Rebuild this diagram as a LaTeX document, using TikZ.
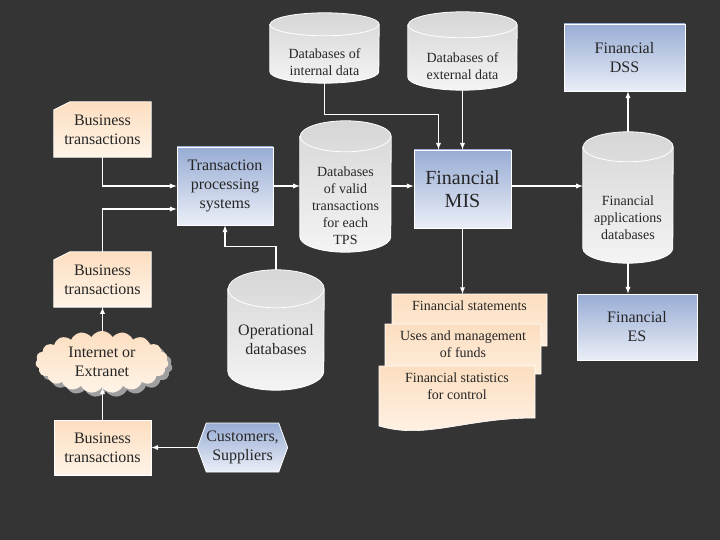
\documentclass[tikz,border=0pt]{standalone}
\usepackage{fontspec}
\setmainfont{Liberation Serif}
\usetikzlibrary{shapes.symbols,shadows}

\definecolor{bgdark}{RGB}{52,52,52}
\definecolor{peachtop}{RGB}{252,222,192}
\definecolor{peachbot}{RGB}{255,244,232}
\definecolor{bluetop}{RGB}{152,172,212}
\definecolor{bluebot}{RGB}{234,238,247}
\definecolor{cyltop}{RGB}{214,214,214}
\definecolor{cylbot}{RGB}{244,244,244}
\definecolor{inkdark}{RGB}{38,38,38}

\tikzset{
  peach/.style={top color=peachtop, bottom color=peachbot},
  bluish/.style={top color=bluetop, bottom color=bluebot},
  biztext/.style={minimum width=97pt, minimum height=55pt, inner sep=0pt, align=center,
    font=\fontsize{16}{19}\selectfont, text=inkdark},
  bizbox/.style={biztext, peach, draw=white, line width=0.8pt},
  cardpage/.style={peach, draw=white, line width=0.8pt},
  sysbox/.style={bluish, draw=white, line width=0.8pt, inner sep=0pt, align=center,
    font=\fontsize{16}{19}\selectfont, text=inkdark},
  dbspot/.style={inner sep=0pt},
  cylbody/.style={top color=cyltop, bottom color=cylbot, draw=white, line width=0.8pt},
  cylrim/.style={draw=white, line width=0.8pt},
  dbtext/.style={align=center, font=\fontsize{14}{17}\selectfont, text=inkdark},
  doctext/.style={align=center, font=\fontsize{14}{17}\selectfont, text=inkdark,
    anchor=north, inner sep=7pt},
  docpage/.style={peach, draw=white, line width=0.6pt},
  flow/.style={->, draw=white, line width=1.3pt},
}

% page of a document, wavy lower edge
\newcommand\docsheet[4]{\path[docpage] (#1,#2) -- (#3,#2) -- (#3,#4)
  .. controls ({#1+0.55*(#3-#1)},#4) and ({#1+0.3*(#3-#1)},#4+22) .. (#1,#4+8) -- cycle;}
% card with clipped corner round a named node
\newcommand\bizcard[1]{%
  \path[cardpage] (#1.south west) -- ([yshift=-8pt]#1.north west)
    -- ([xshift=16pt]#1.north west) -- (#1.north east) -- (#1.south east) -- cycle;}
% drum round a named node: name, half width, half height of the end
\newcommand\dbdrum[3]{%
  \path[cylbody] ([yshift=-#3pt]#1.north west) -- ([yshift=#3pt]#1.south west)
    arc[start angle=180, end angle=360, x radius=#2pt, y radius=#3pt]
    -- ([yshift=-#3pt]#1.north east)
    arc[start angle=0, end angle=180, x radius=#2pt, y radius=#3pt] -- cycle;
  \draw[cylrim] ([yshift=-#3pt]#1.north west)
    arc[start angle=180, end angle=360, x radius=#2pt, y radius=#3pt];}

\begin{document}
\begin{tikzpicture}[x=1pt,y=-1pt,>=latex]
\fill[bgdark] (0,0) rectangle (720,540);

% left column
\coordinate (biz1c) at (102.5,129.5);
\path (biz1c) node[biztext] (biz1) {};
\bizcard{biz1}
\node[biztext] (biz1txt) at (biz1) {Business\\transactions};
\coordinate (biz2c) at (102.5,279.5);
\path (biz2c) node[biztext] (biz2) {};
\bizcard{biz2}
\node[biztext] (biz2txt) at (biz2) {Business\\transactions};
\node[cloud, cloud puffs=19, cloud puff arc=120, aspect=2.1, peach, minimum width=133pt,
  minimum height=62pt, inner sep=0pt, align=center, font=\fontsize{16}{19}\selectfont,
  text=inkdark, drop shadow={shadow xshift=4pt, shadow yshift=-4pt, fill=gray!75, opacity=1}]
  (net) at (102,362) {Internet or\\Extranet};
\node[bizbox] (biz3) at (102.5,447.5) {Business\\transactions};
\node[sysbox, signal, signal to=west and east, signal pointer angle=140,
  minimum width=89pt, minimum height=49pt] (cust) at (242.5,447.5) {Customers,\\Suppliers};

% systems
\node[sysbox, minimum width=96pt, minimum height=78pt] (tps) at (225,186)
  {Transaction\\processing\\systems};
\node[sysbox, minimum width=97pt, minimum height=78pt, font=\fontsize{20}{23}\selectfont]
  (mis) at (462.5,189) {Financial\\MIS};
\node[sysbox, minimum width=121pt, minimum height=67pt] (dss) at (624.5,57.5) {Financial\\DSS};
\node[sysbox, minimum width=120pt, minimum height=66pt] (es) at (637,327) {Financial\\ES};

% databases
\node[dbspot, minimum width=109pt, minimum height=70pt] (dbint) at (324.5,48) {};
\dbdrum{dbint}{54.5}{11.5}
\node[dbtext] (dbinttxt) at ([yshift=-14pt]dbint.center) {Databases of\\internal data};
\node[dbspot, minimum width=109pt, minimum height=78pt] (dbext) at (462.5,51) {};
\dbdrum{dbext}{54.5}{13}
\node[dbtext] (dbexttxt) at ([yshift=-15pt]dbext.center) {Databases of\\external data};
\node[dbspot, minimum width=91pt, minimum height=131pt] (dbvalid) at (345.5,186.5) {};
\dbdrum{dbvalid}{45.5}{15.5}
\node[dbtext] (dbvalidtxt) at ([yshift=-19pt]dbvalid.center)
  {Databases\\of valid\\transactions\\for each\\TPS};
\node[dbspot, minimum width=90pt, minimum height=131pt] (fadb) at (628,197.5) {};
\dbdrum{fadb}{45}{15}
\node[dbtext] (fadbtxt) at ([yshift=-20pt]fadb.center) {Financial\\applications\\databases};
\node[dbspot, minimum width=96pt, minimum height=120pt] (opdb) at (276,330) {};
\dbdrum{opdb}{48}{19}
\node[dbtext, font=\fontsize{16}{19}\selectfont] (opdbtxt) at ([yshift=-10pt]opdb.center)
  {Operational\\databases};

% reports
\docsheet{392}{294}{547}{346}
\node[doctext] (stmt) at (469.5,294) {Financial statements};
\docsheet{385}{324}{541}{374}
\node[doctext] (funds) at (463,324) {Uses and management\\of funds};
\docsheet{379}{366}{535}{418}
\node[doctext] (ctrl) at (457,366) {Financial statistics\\for control};

% flows
\draw[flow] (biz1.south) |- (tps.west);
\draw[flow] (biz2.north) |- ([yshift=-23pt]tps.west);
\draw[flow] (opdb.north) -- ++(0,-23) -| (tps.south);
\draw[flow] (biz2.south |- net.north) -- (biz2.south);
\draw[flow] (biz3.north) -- (biz3.north |- net.south);
\draw[flow] (cust.west) -- (biz3.east);
\draw[flow] (tps.east) -- (tps.east -| dbvalid.west);
\draw[flow] (tps.east -| dbvalid.east) -- (tps.east -| mis.west);
\draw[flow] (tps.east -| mis.east) -- (tps.east -| fadb.west);
\draw[flow] (dbint.south) -- ++(0,31) -| ([xshift=-24pt]mis.north);
\draw[flow] (dbext.south) -- (dbext.south |- mis.north);
\draw[flow] (fadb.north) -- (fadb.north |- dss.south);
\draw[flow] (fadb.south) -- (fadb.south |- es.north);
\draw[flow] (mis.south) -- (mis.south |- stmt.north);
\end{tikzpicture}
\end{document}
